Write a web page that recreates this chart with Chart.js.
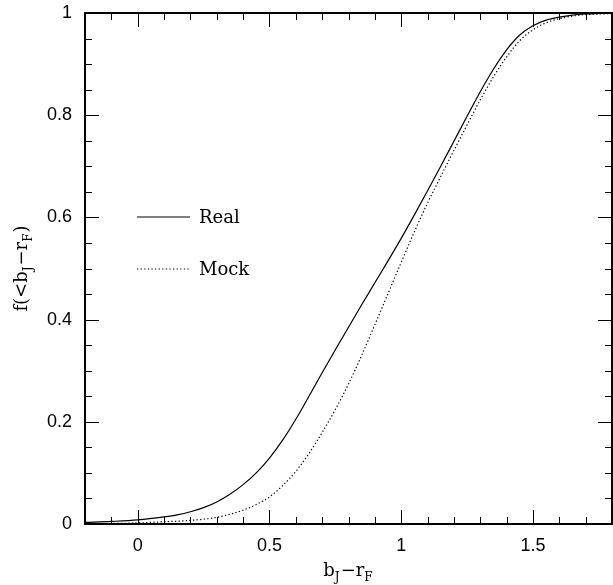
<!DOCTYPE html>
<html>
<head>
<meta charset="utf-8">
<script src="https://cdn.jsdelivr.net/npm/chart.js@4.4.1/dist/chart.umd.min.js"></script>
<style>
  html, body { margin: 0; padding: 0; background: #fff; }
  #wrap { width: 613px; height: 585px; }
</style>
</head>
<body>
<div id="wrap"><canvas id="c"></canvas></div>
<script>
// colour b_J - r_F, and cumulative fraction f(<b_J - r_F)
const colour = [-0.2, -0.1, 0, 0.1, 0.15, 0.2, 0.25, 0.3, 0.35, 0.4, 0.45, 0.5, 0.55, 0.6, 0.65, 0.7, 0.75, 0.8, 0.85, 0.9, 0.95,
                1.0, 1.05, 1.1, 1.15, 1.2, 1.25, 1.3, 1.35, 1.4, 1.45, 1.5, 1.55, 1.6, 1.65, 1.7, 1.75, 1.8];
const real = [0.003, 0.005, 0.008, 0.014, 0.018, 0.024, 0.032, 0.043, 0.058, 0.077, 0.100, 0.129, 0.164, 0.205, 0.250, 0.296, 0.341, 0.385, 0.429, 0.472, 0.515,
              0.559, 0.605, 0.652, 0.70, 0.749, 0.798, 0.846, 0.890, 0.928, 0.957, 0.975, 0.986, 0.992, 0.996, 0.998, 0.999, 1.0];
const mock = [0.0005, 0.001, 0.002, 0.0045, 0.0055, 0.007, 0.0095, 0.013, 0.019, 0.027, 0.038, 0.053, 0.075, 0.103, 0.138, 0.179, 0.224, 0.274, 0.330, 0.390, 0.451,
              0.512, 0.572, 0.628, 0.680, 0.731, 0.781, 0.830, 0.875, 0.914, 0.946, 0.967, 0.981, 0.989, 0.994, 0.997, 0.998, 0.999];
const seriesNames = ['Real', 'Mock'];

const xTicks = [0, 0.5, 1, 1.5];
const xTickLabels = ['0', '0.5', '1', '1.5'];
const yTicks = [0, 0.2, 0.4, 0.6, 0.8, 1];
const yTickLabels = ['0', '0.2', '0.4', '0.6', '0.8', '1'];

const serif = '"DejaVu Serif", serif';
const sans = '"Liberation Sans", Arial, sans-serif';

const pts = ys => colour.map((x, i) => ({x, y: ys[i]}));

// frame with inward ticks on all four sides, legend and axis titles
const frame = {
  id: 'frame',
  afterDatasetsDraw(chart) {
    const {ctx, chartArea: a, scales: {x, y}} = chart;
    ctx.save();
    ctx.strokeStyle = '#000';
    ctx.lineWidth = 1;
    ctx.beginPath();
    for (let i = -2; i <= 18; i++) {
      const px = Math.round(x.getPixelForValue(i / 10)) + 0.5;
      const len = i % 5 === 0 ? 14 : 7;
      ctx.moveTo(px, a.bottom); ctx.lineTo(px, a.bottom - len);
      ctx.moveTo(px, a.top); ctx.lineTo(px, a.top + len);
    }
    for (let i = 0; i <= 20; i++) {
      const py = Math.round(y.getPixelForValue(i / 20)) + 0.5;
      const len = i % 4 === 0 ? 14 : 7;
      ctx.moveTo(a.left, py); ctx.lineTo(a.left + len, py);
      ctx.moveTo(a.right, py); ctx.lineTo(a.right - len, py);
    }
    ctx.stroke();
    ctx.lineWidth = 2;
    ctx.strokeRect(a.left, a.top, a.right - a.left, a.bottom - a.top);

    // legend inside the plot
    ctx.font = '18px ' + serif;
    ctx.fillStyle = '#000';
    ctx.textBaseline = 'alphabetic';
    chart.data.datasets.forEach((ds, i) => {
      const ly = 217 + i * 52;
      ctx.beginPath();
      ctx.lineWidth = ds.borderWidth;
      ctx.setLineDash(ds.borderDash || []);
      ctx.moveTo(137, ly); ctx.lineTo(190, ly);
      ctx.stroke();
      ctx.setLineDash([]);
      ctx.fillText(ds.label, 199, ly + 6);
    });

    // axis titles with subscripts
    const setF = s => { ctx.font = (s ? '12px ' : '18px ') + serif; };
    const width = parts => parts.reduce((w, [t, s]) => { setF(s); return w + ctx.measureText(t).width + (s ? 1 : 0); }, 0);
    const sub = (parts, x0, y0) => {
      let cx = x0;
      parts.forEach(([t, s]) => {
        setF(s);
        ctx.fillText(t, cx, y0 + (s ? 5 : 0));
        cx += ctx.measureText(t).width + (s ? 1 : 0);
      });
    };
    ctx.textAlign = 'left';
    const xParts = [['b', 0], ['J', 1], ['\u2212r', 0], ['F', 1]];
    sub(xParts, (a.left + a.right) / 2 - width(xParts) / 2, 576);

    ctx.save();
    ctx.translate(27, (a.top + a.bottom) / 2);
    ctx.rotate(-Math.PI / 2);
    const yParts = [['f(<b', 0], ['J', 1], ['\u2212r', 0], ['F', 1], [')', 0]];
    sub(yParts, -width(yParts) / 2, 0);
    ctx.restore();
    ctx.restore();
  }
};

new Chart(document.getElementById('c'), {
  type: 'line',
  data: {
    datasets: [
      { label: seriesNames[0], data: pts(real), borderColor: '#000', borderWidth: 1.2,
        pointRadius: 0, cubicInterpolationMode: 'monotone', fill: false },
      { label: seriesNames[1], data: pts(mock), borderColor: '#000', borderWidth: 1.2, borderDash: [1.3, 2.3],
        pointRadius: 0, cubicInterpolationMode: 'monotone', fill: false }
    ]
  },
  options: {
    responsive: true,
    maintainAspectRatio: false,
    animation: false,
    events: [],
    layout: { padding: { top: 13, right: 1, left: 0, bottom: 0 } },
    plugins: { legend: { display: false }, tooltip: { enabled: false } },
    scales: {
      x: {
        type: 'linear', min: -0.2, max: 1.8,
        grid: { display: false, drawTicks: false },
        border: { display: false },
        afterBuildTicks: s => { s.ticks = xTicks.map(v => ({value: v})); },
        afterFit: s => { s.height = 61; s.paddingLeft = 0; s.paddingRight = 0; },
        ticks: { padding: 11, color: '#000', font: { family: sans, size: 18 },
                 callback: (v, i) => xTickLabels[i], maxRotation: 0 }
      },
      y: {
        type: 'linear', min: 0, max: 1,
        grid: { display: false, drawTicks: false },
        border: { display: false },
        afterBuildTicks: s => { s.ticks = yTicks.map(v => ({value: v})); },
        afterFit: s => { s.width = 85; s.paddingTop = 0; s.paddingBottom = 0; },
        ticks: { padding: 13, color: '#000', font: { family: sans, size: 18 },
                 callback: (v, i) => yTickLabels[i] }
      }
    }
  },
  plugins: [frame]
});
</script>
</body>
</html>
